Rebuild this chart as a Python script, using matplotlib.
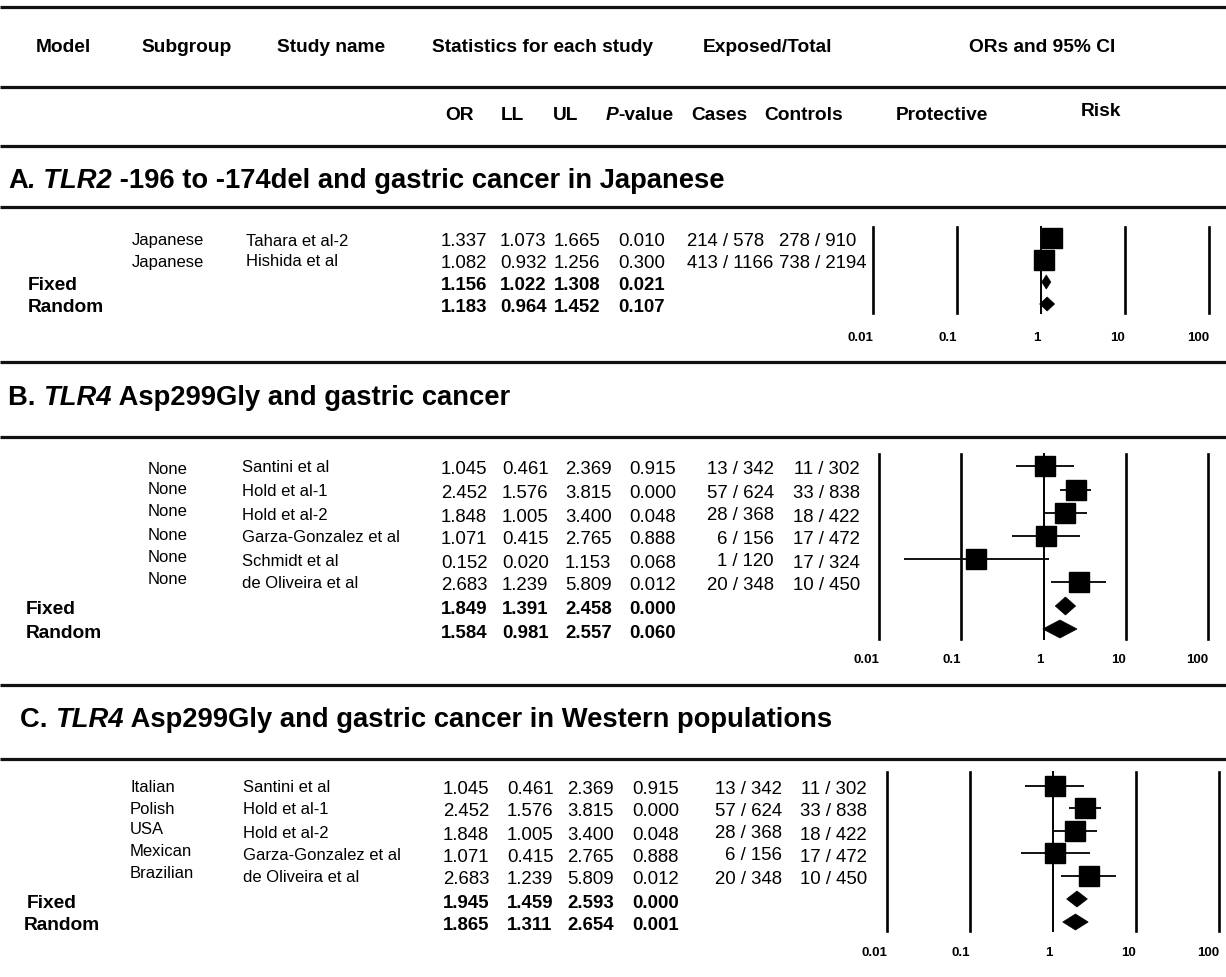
import numpy as np
import matplotlib
matplotlib.use('Agg')
import matplotlib.pyplot as plt
from matplotlib.offsetbox import TextArea, HPacker, AnnotationBbox
from matplotlib.patches import Polygon

plt.rcParams['font.family'] = 'Liberation Sans'

# ---- data ----
sub_a = ['Japanese', 'Japanese']
study_a = ['Tahara et al-2', 'Hishida et al']
or_a = ['1.337', '1.082']
ll_a = ['1.073', '0.932']
ul_a = ['1.665', '1.256']
p_a = ['0.010', '0.300']
cases_a = ['214 / 578', '413 / 1166']
ctrl_a = ['278 / 910', '738 / 2194']
fixed_a = ['1.156', '1.022', '1.308', '0.021']
random_a = ['1.183', '0.964', '1.452', '0.107']

sub_b = ['None', 'None', 'None', 'None', 'None', 'None']
study_b = ['Santini et al', 'Hold et al-1', 'Hold et al-2', 'Garza-Gonzalez et al',
           'Schmidt et al', 'de Oliveira et al']
or_b = ['1.045', '2.452', '1.848', '1.071', '0.152', '2.683']
ll_b = ['0.461', '1.576', '1.005', '0.415', '0.020', '1.239']
ul_b = ['2.369', '3.815', '3.400', '2.765', '1.153', '5.809']
p_b = ['0.915', '0.000', '0.048', '0.888', '0.068', '0.012']
cases_b = ['13 / 342', '57 / 624', '28 / 368', '6 / 156', '1 / 120', '20 / 348']
ctrl_b = ['11 / 302', '33 / 838', '18 / 422', '17 / 472', '17 / 324', '10 / 450']
fixed_b = ['1.849', '1.391', '2.458', '0.000']
random_b = ['1.584', '0.981', '2.557', '0.060']

sub_c = ['Italian', 'Polish', 'USA', 'Mexican', 'Brazilian']
study_c = ['Santini et al', 'Hold et al-1', 'Hold et al-2', 'Garza-Gonzalez et al',
           'de Oliveira et al']
or_c = ['1.045', '2.452', '1.848', '1.071', '2.683']
ll_c = ['0.461', '1.576', '1.005', '0.415', '1.239']
ul_c = ['2.369', '3.815', '3.400', '2.765', '5.809']
p_c = ['0.915', '0.000', '0.048', '0.888', '0.012']
cases_c = ['13 / 342', '57 / 624', '28 / 368', '6 / 156', '20 / 348']
ctrl_c = ['11 / 302', '33 / 838', '18 / 422', '17 / 472', '10 / 450']
fixed_c = ['1.945', '1.459', '2.593', '0.000']
random_c = ['1.865', '1.311', '2.654', '0.001']

ticks = [0.01, 0.1, 1, 10, 100]
tick_labels = ['0.01', '0.1', '1', '10', '100']

W, H = 1226, 978
fig = plt.figure(figsize=(W / 100, H / 100), dpi=100)
ax = fig.add_axes([0, 0, 1, 1])
ax.set_xlim(0, W)
ax.set_ylim(H, 0)
ax.axis('off')

FS = 13.4
BFS = 13.8


def rich(x, y, parts, size):
    # parts: list of (text, style)
    areas = [TextArea(t, textprops=dict(fontsize=size, fontweight='bold', fontstyle=s)) for t, s in parts]
    box = HPacker(children=areas, pad=0, sep=0, align='baseline')
    ab = AnnotationBbox(box, (x, y), xycoords='data', box_alignment=(0, 0.5), frameon=False, pad=0)
    ax.add_artist(ab)


# horizontal rules
for yy in [8, 88, 147, 208, 363, 438, 686, 760]:
    ax.plot([0, W], [yy, yy], color='#111111', lw=2.3, solid_capstyle='butt')

# header
hdr = [('Model', 63), ('Subgroup', 187), ('Study name', 331), ('Statistics for each study', 543),
       ('Exposed/Total', 767), ('ORs and 95% CI', 1042)]
for t, x in hdr:
    ax.text(x, 48, t, ha='center', va='center', fontsize=BFS, fontweight='bold')
sub_hdr = [('OR', 459), ('LL', 512), ('UL', 566), ('Cases', 719), ('Controls', 804), ('Protective', 942)]
for t, x in sub_hdr:
    ax.text(x, 115, t, ha='center', va='center', fontsize=BFS, fontweight='bold')
ax.text(1101, 112, 'Risk', ha='center', va='center', fontsize=BFS, fontweight='bold')
ax.text(618, 115, 'P', ha='right', va='center', fontsize=BFS, fontweight='bold', fontstyle='italic')
ax.text(618, 115, '-value', ha='left', va='center', fontsize=BFS, fontweight='bold')

# panel titles
rich(8, 181, [('A', 'normal'), ('. TLR2', 'italic'), (' -196 to -174del and gastric cancer in Japanese', 'normal')], 19.7)
rich(8, 398, [('B. ', 'normal'), ('TLR4', 'italic'), (' Asp299Gly and gastric cancer', 'normal')], 19.7)
rich(20, 720, [('C. ', 'normal'), ('TLR4', 'italic'), (' Asp299Gly and gastric cancer in Western populations', 'normal')], 19.7)

panels = [
    dict(sub=sub_a, study=study_a, OR=or_a, LL=ll_a, UL=ul_a, P=p_a, cases=cases_a, ctrl=ctrl_a,
         fixed=fixed_a, random=random_a,
         rows=[242, 264, 286, 308], sub_y=[241, 262], sub_x=132, study_x=246, model_x=[28, 28],
         num_x=[441, 500, 554, 618], cases_x=687, cases_ha='left', ctrl_x=779, ctrl_ha='left',
         fx=(873, 1209), fy=(228, 314), lab_y=338, dh=7),
    dict(sub=sub_b, study=study_b, OR=or_b, LL=ll_b, UL=ul_b, P=p_b, cases=cases_b, ctrl=ctrl_b,
         fixed=fixed_b, random=random_b,
         rows=[470, 494, 517, 540, 563, 586, 610, 633], sub_y=[469, 490, 512, 535, 557, 579],
         sub_x=148, study_x=242, model_x=[26, 26],
         num_x=[441, 502, 565, 629], cases_x=774, cases_ha='right', ctrl_x=860, ctrl_ha='right',
         fx=(879, 1208), fy=(455, 640), lab_y=660, dh=9),
    dict(sub=sub_c, study=study_c, OR=or_c, LL=ll_c, UL=ul_c, P=p_c, cases=cases_c, ctrl=ctrl_c,
         fixed=fixed_c, random=random_c,
         rows=[790, 812, 835, 857, 880, 903, 926], sub_y=[788, 809, 829, 851, 873],
         sub_x=130, study_x=243, model_x=[27, 24],
         num_x=[443, 507, 567, 632], cases_x=782, cases_ha='right', ctrl_x=867, ctrl_ha='right',
         fx=(887, 1219), fy=(773, 932), lab_y=953, dh=8),
]

for pn in panels:
    n = len(pn['study'])
    rows = pn['rows']
    for i in range(n):
        ax.text(pn['sub_x'], pn['sub_y'][i], pn['sub'][i], ha='left', va='center', fontsize=12)
        ax.text(pn['study_x'], pn['sub_y'][i] if pn is panels[0] else rows[i] - 2, pn['study'][i],
                ha='left', va='center', fontsize=12)
        vals = [pn['OR'][i], pn['LL'][i], pn['UL'][i], pn['P'][i]]
        for v, x in zip(vals, pn['num_x']):
            ax.text(x, rows[i], v, ha='left', va='center', fontsize=FS)
        ax.text(pn['cases_x'], rows[i] - 1, pn['cases'][i], ha=pn['cases_ha'], va='center', fontsize=FS)
        ax.text(pn['ctrl_x'], rows[i], pn['ctrl'][i], ha=pn['ctrl_ha'], va='center', fontsize=FS)
    for k, (name, summ) in enumerate([('Fixed', pn['fixed']), ('Random', pn['random'])]):
        yy = rows[n + k]
        ax.text(pn['model_x'][k], yy, name, ha='left', va='center', fontsize=BFS, fontweight='bold')
        for v, x in zip(summ, pn['num_x']):
            ax.text(x, yy, v, ha='left', va='center', fontsize=FS, fontweight='bold')

    # forest plot
    x0, x1 = pn['fx']
    ytop, ybot = pn['fy']
    fax = fig.add_axes([x0 / W, 1 - ybot / H, (x1 - x0) / W, (ybot - ytop) / H])
    fax.set_xscale('log')
    fax.set_xlim(0.01, 100)
    fax.set_ylim(ybot, ytop)
    fax.axis('off')
    for t in ticks:
        fax.plot([t, t], [ytop, ybot], color='black', lw=1.4 if t == 1 else 1.9, clip_on=False)
    for t, lab in zip(ticks, tick_labels):
        fax.text(t, pn['lab_y'], lab, ha='right', va='center', fontsize=9.5, fontweight='bold')
    orv = np.array(pn['OR'], dtype=float)
    llv = np.array(pn['LL'], dtype=float)
    ulv = np.array(pn['UL'], dtype=float)
    ys = np.array(rows[:n]) - 3
    fax.hlines(ys, llv, ulv, color='black', lw=1.3, clip_on=False)
    fax.plot(orv, ys, 's', color='black', markersize=14, clip_on=False)
    for k, summ in enumerate([pn['fixed'], pn['random']]):
        o, lo, hi = float(summ[0]), float(summ[1]), float(summ[2])
        yy = rows[n + k] - 3
        d = pn['dh']
        fax.add_patch(Polygon([(lo, yy), (o, yy - d), (hi, yy), (o, yy + d)], closed=True,
                              facecolor='black', edgecolor='black', lw=0.5, clip_on=False))

fig.savefig('out.png', dpi=100)
